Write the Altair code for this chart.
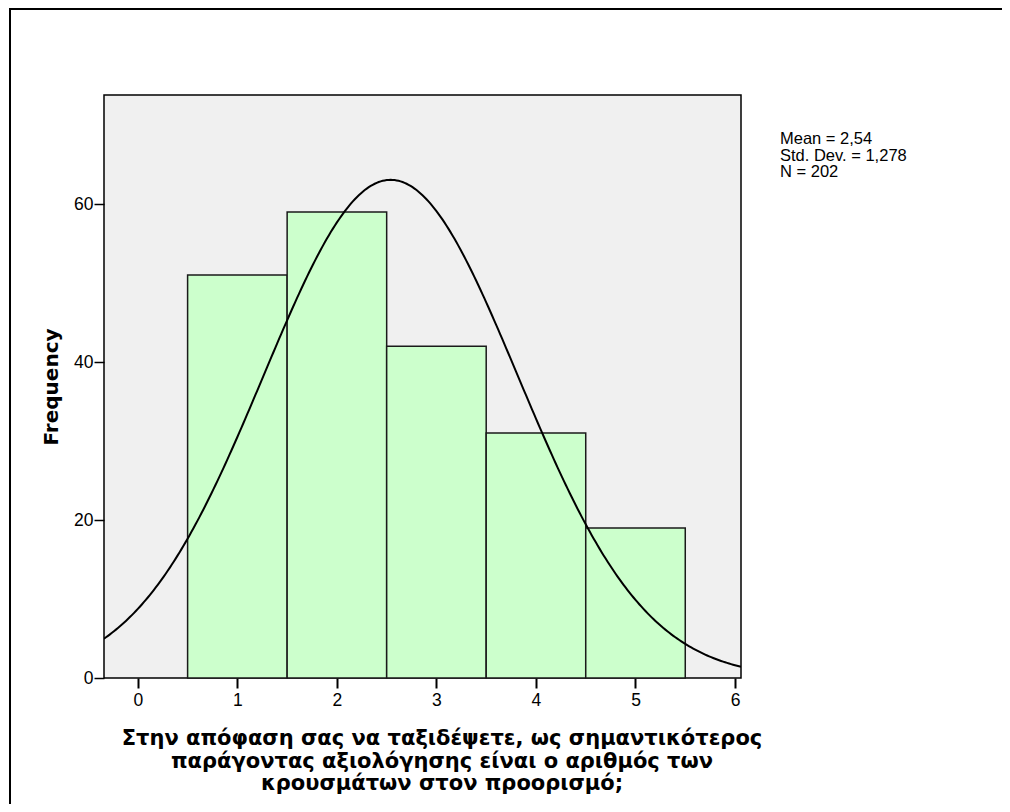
import altair as alt
import pandas as pd

# Data
categories = [1, 2, 3, 4, 5]
counts = [51, 59, 42, 31, 19]
x_ticks = [0, 1, 2, 3, 4, 5, 6]
y_ticks = [0, 20, 40, 60]
mean_val = 2.54
std_val = 1.278
n_val = 202
stats_lines = ["Mean = 2,54", "Std. Dev. = 1,278", "N = 202"]
x_title_lines = [
    "Στην απόφαση σας να ταξιδέψετε, ως σημαντικότερος",
    "παράγοντας αξιολόγησης είναι ο αριθμός των",
    "κρουσμάτων στον προορισμό;",
]

FONT = "Liberation Sans"
TFONT = "DejaVu Sans"
W, H = 637, 583
PAD = {"left": 96, "top": 87, "right": 261, "bottom": 126}
XDOM = [-0.34, 6.06]
YDOM = [0, 73.8]

bars_df = pd.DataFrame({"value": categories, "count": counts})

xscale = alt.Scale(domain=XDOM, nice=False, zero=False)
yscale = alt.Scale(domain=YDOM, nice=False)

xaxis = alt.Axis(values=x_ticks, title=None, grid=False, domain=False,
                 tickSize=10, tickWidth=2, tickColor="black",
                 labelFontSize=17.5, labelColor="black", labelFont=FONT,
                 labelPadding=3, labelFlush=False, format="d")
yaxis = alt.Axis(values=y_ticks, title="Frequency", grid=False, domain=False,
                 tickSize=10, tickWidth=1.5, tickColor="black",
                 labelFontSize=17.5, labelColor="black", labelFont=FONT,
                 labelPadding=1, format="d",
                 titleFont=TFONT, titleFontSize=20, titleFontWeight="bold",
                 titleColor="black", titlePadding=12)

bars = alt.Chart(bars_df).transform_calculate(
    x0="datum.value - 0.5", x1="datum.value + 0.5"
).mark_rect(fill="#CCFFCC", stroke="#1a1a1a", strokeWidth=1.5).encode(
    x=alt.X("x0:Q", scale=xscale, axis=xaxis),
    x2="x1:Q",
    y=alt.Y("count:Q", scale=yscale, axis=yaxis),
    y2=alt.datum(0),
)

curve = alt.Chart(alt.sequence(start=XDOM[0], stop=XDOM[1] + 0.001, step=0.02, as_="x")).transform_calculate(
    y=f"{n_val} / ({std_val} * sqrt(2 * PI)) * exp(-pow(datum.x - {mean_val}, 2) / (2 * {std_val} * {std_val}))"
).mark_line(color="black", strokeWidth=2, clip=True).encode(
    x=alt.X("x:Q", scale=xscale),
    y=alt.Y("y:Q", scale=yscale),
)

stats = alt.Chart(alt.Data(values=[{}])).mark_text(
    align="left", baseline="alphabetic", font=FONT, fontSize=16.5,
    lineHeight=16.5, color="black"
).encode(x=alt.value(676), y=alt.value(49), text=alt.value(stats_lines))

xtitle = alt.Chart(alt.Data(values=[{}])).mark_text(
    align="center", baseline="alphabetic", font=TFONT, fontSize=21,
    fontWeight="bold", lineHeight=22.5, color="black"
).encode(x=alt.value(338), y=alt.value(650), text=alt.value(x_title_lines))

right_edge = W + PAD["right"]
bottom_edge = H + PAD["bottom"]

frame_top = alt.Chart(alt.Data(values=[{}])).mark_rule(
    stroke="black", strokeWidth=2
).encode(x=alt.value(-95), x2=alt.value(right_edge), y=alt.value(-86))

frame_left = alt.Chart(alt.Data(values=[{}])).mark_rule(
    stroke="black", strokeWidth=2
).encode(x=alt.value(-94), y=alt.value(-87), y2=alt.value(bottom_edge))

chart = alt.layer(bars, curve, stats, xtitle, frame_top, frame_left).properties(
    width=W, height=H,
    autosize=alt.AutoSizeParams(type="none"),
    padding=PAD,
    background="white",
).configure_view(
    fill="#F0F0F0", stroke="black", strokeWidth=1.5
)

chart.save("out.html", embed_options={"renderer": "svg", "actions": False})
